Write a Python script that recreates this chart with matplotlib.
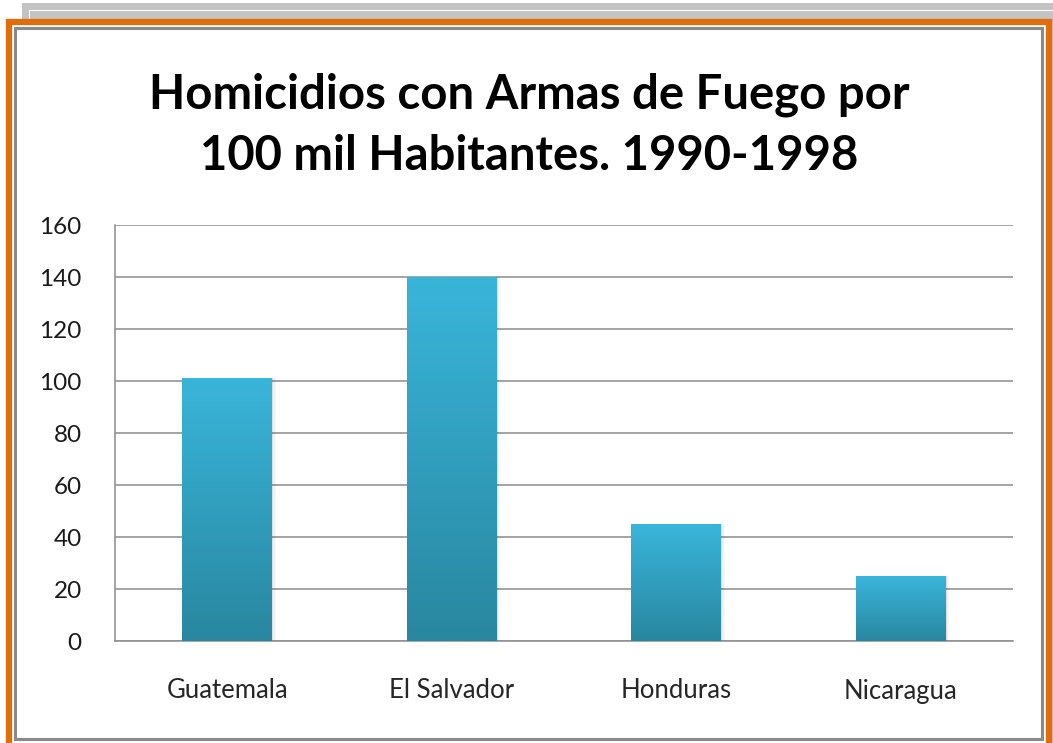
import numpy as np
import matplotlib
matplotlib.use('Agg')
import matplotlib.pyplot as plt
from matplotlib.patches import Rectangle

paises = ['Guatemala', 'El Salvador', 'Honduras', 'Nicaragua']
homicidios = [101, 140, 45, 25]
yticks = [0, 20, 40, 60, 80, 100, 120, 140, 160]
titulo = 'Homicidios con Armas de Fuego por\n100 mil Habitantes. 1990-1998'

W, H = 1053, 743

plt.rcParams['font.family'] = ['Lato', 'DejaVu Sans']

fig = plt.figure(figsize=(W / 100, H / 100), dpi=100)
fig.patch.set_facecolor('white')


def frame(x, y, w, h, **kw):
    # rectangle given in pixels from the top-left corner
    r = Rectangle((x / W, 1 - (y + h) / H), w / W, h / H,
                  transform=fig.transFigure, **kw)
    fig.add_artist(r)
    return r


# shadow card behind the chart
frame(22, 3, 1040, 760, facecolor='#c3c3c3', edgecolor='none', zorder=0)
frame(28.5, 9.5, 1030, 760, facecolor='none', edgecolor='white', lw=0.8, zorder=0.5)
# orange outline and inner panel
frame(9, 22, 1040, 740, facecolor='white', edgecolor='#e36c0a', lw=4.5, zorder=1)
frame(14.5, 27.5, 1027, 711, facecolor='white', edgecolor='#8a8a8a', lw=2.2, zorder=1.5)

fig.text(0.503, 1 - 125 / H, titulo, ha='center', va='center', fontsize=34,
         fontweight='bold', linespacing=1.46, color='black', zorder=3)

ax = fig.add_axes([115 / W, 1 - 641 / H, 898 / W, 416 / H], zorder=2)
ax.set_facecolor('none')

x = np.arange(len(paises))
bars = ax.bar(x, homicidios, width=0.4, facecolor='none', edgecolor='none', zorder=3)

# vertical gradient inside each bar plus a soft shadow on the right
grad = np.linspace(0, 1, 256).reshape(-1, 1)
cmap = matplotlib.colors.LinearSegmentedColormap.from_list('azul', ['#2987a0', '#39b5da'])
for b in bars:
    x0, w, h = b.get_x(), b.get_width(), b.get_height()
    for k, a in enumerate([0.07, 0.04, 0.02]):
        ax.add_patch(Rectangle((x0 + w, 0), 0.006 * (k + 1), h, facecolor='black',
                               alpha=a, edgecolor='none', zorder=2.5))
    im = ax.imshow(grad, extent=(x0, x0 + w, 0, h), origin='lower', cmap=cmap,
                   aspect='auto', zorder=3)
    im.set_clip_path(b)

ax.set_xlim(-0.5, len(paises) - 0.5)
ax.set_ylim(0, 160)
ax.set_yticks(yticks)
ax.set_xticks(x)
ax.set_xticklabels(paises)
ax.tick_params(axis='y', length=0, pad=24, labelsize=17.5, labelcolor='#1a1a1a')
ax.tick_params(axis='x', length=0, pad=27, labelsize=18.5, labelcolor='#262626')
ax.grid(axis='y', color='#8c8c8c', lw=1.1)
ax.set_axisbelow(True)
for s in ['top', 'right']:
    ax.spines[s].set_visible(False)
for s in ['left', 'bottom']:
    ax.spines[s].set_color('#8c8c8c')
    ax.spines[s].set_linewidth(1.1)

fig.savefig('out.png', dpi=100)
